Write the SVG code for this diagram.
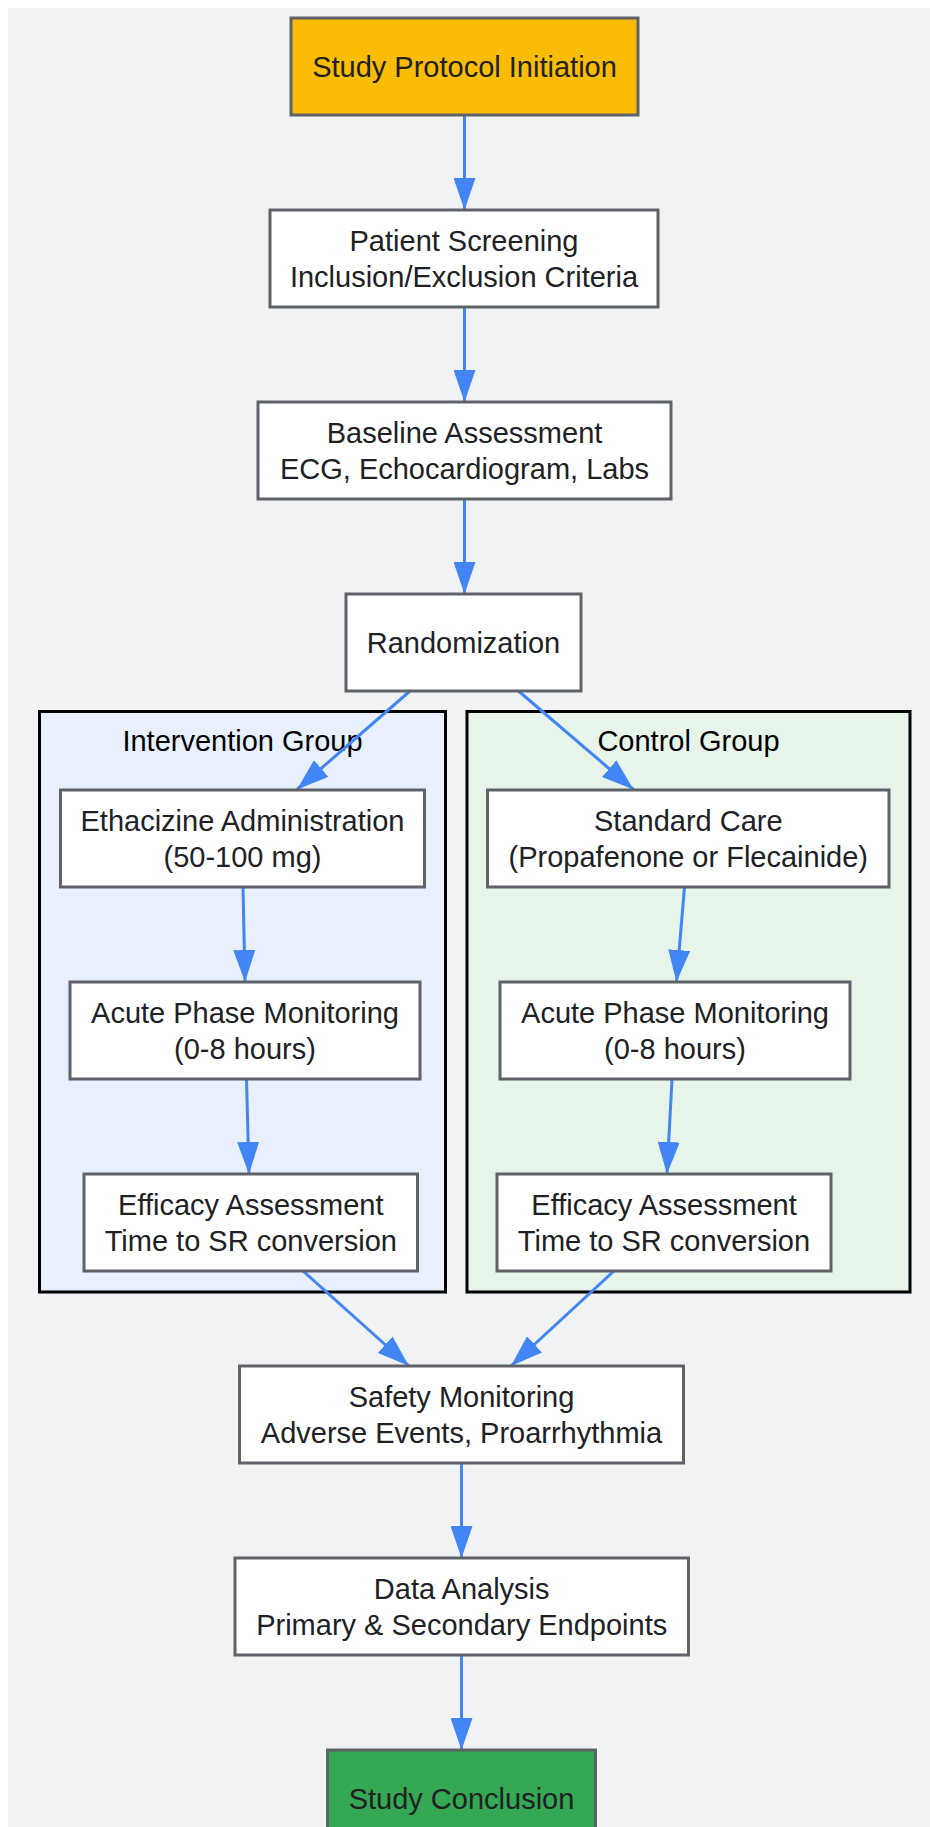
<svg xmlns="http://www.w3.org/2000/svg" width="930" height="1827" viewBox="0 0 930 1827">
<style>
.bg{fill:#f1f2f4}
.node rect{fill:#ffffff;stroke:#5f6368;stroke-width:3}
.node text,.cl text{font-family:"Liberation Sans",Arial,sans-serif;font-size:29px;text-anchor:middle;fill:#202124}
.cl rect{stroke:#000000;stroke-width:3}
.cl text{fill:#000000}
.edge{fill:none;stroke:#4285f4;stroke-width:3}
</style>
<defs>
<marker id="arr" markerUnits="userSpaceOnUse" markerWidth="32" markerHeight="22" refX="32" refY="11" orient="auto">
<path d="M0,0 L32,11 L0,22 Z" fill="#4285f4"/>
</marker>
</defs>
<rect class="bg" x="8" y="8" width="922" height="1819"/>
<g id="cluster-intervention" class="cl">
<rect x="39.5" y="711.5" width="406" height="580.5" fill="#e8f0fe"/>
<text x="242.5" y="750.5">Intervention Group</text>
</g>
<g id="cluster-control" class="cl">
<rect x="467" y="711.5" width="443" height="580.5" fill="#e6f4ea"/>
<text x="688.5" y="750.5">Control Group</text>
</g>
<g id="connectors">
<path class="edge" d="M464.5,115.5 L464.5,210" marker-end="url(#arr)"/>
<path class="edge" d="M464.5,306.5 L464.5,402" marker-end="url(#arr)"/>
<path class="edge" d="M464.5,499 L464.5,594" marker-end="url(#arr)"/>
<path class="edge" d="M410,691 L297,789.5" marker-end="url(#arr)"/>
<path class="edge" d="M518.5,691 L633.5,789.5" marker-end="url(#arr)"/>
<path class="edge" d="M243,887 L245,982" marker-end="url(#arr)"/>
<path class="edge" d="M684.5,887 L676.5,982" marker-end="url(#arr)"/>
<path class="edge" d="M246.5,1079 L249,1174" marker-end="url(#arr)"/>
<path class="edge" d="M672,1079 L667,1174" marker-end="url(#arr)"/>
<path class="edge" d="M303,1271 L409,1366" marker-end="url(#arr)"/>
<path class="edge" d="M614,1271 L511,1366" marker-end="url(#arr)"/>
<path class="edge" d="M461.5,1463 L461.5,1558" marker-end="url(#arr)"/>
<path class="edge" d="M461.5,1655 L461.5,1750" marker-end="url(#arr)"/>
</g>
<g id="n-start" class="node">
<rect x="291" y="18" width="347" height="97" style="fill:#fbbc04"/>
<text x="464.5" y="77">Study Protocol Initiation</text>
</g>
<g id="n-screening" class="node">
<rect x="270" y="210" width="388" height="97"/>
<text x="464" y="250.5">Patient Screening</text>
<text x="464" y="286.5">Inclusion/Exclusion Criteria</text>
</g>
<g id="n-baseline" class="node">
<rect x="258" y="402" width="413" height="97"/>
<text x="464.5" y="442.5">Baseline Assessment</text>
<text x="464.5" y="478.5">ECG, Echocardiogram, Labs</text>
</g>
<g id="n-random" class="node">
<rect x="346" y="594" width="235" height="97"/>
<text x="463.5" y="653">Randomization</text>
</g>
<g id="n-ethacizine" class="node">
<rect x="60.5" y="790" width="364" height="97"/>
<text x="242.5" y="830.5">Ethacizine Administration</text>
<text x="242.5" y="866.5">(50-100 mg)</text>
</g>
<g id="n-standard" class="node">
<rect x="487.5" y="790" width="401.5" height="97"/>
<text x="688.3" y="830.5">Standard Care</text>
<text x="688.3" y="866.5">(Propafenone or Flecainide)</text>
</g>
<g id="n-acute-i" class="node">
<rect x="70" y="982" width="350" height="97"/>
<text x="245" y="1022.5">Acute Phase Monitoring</text>
<text x="245" y="1058.5">(0-8 hours)</text>
</g>
<g id="n-acute-c" class="node">
<rect x="500" y="982" width="350" height="97"/>
<text x="675" y="1022.5">Acute Phase Monitoring</text>
<text x="675" y="1058.5">(0-8 hours)</text>
</g>
<g id="n-efficacy-i" class="node">
<rect x="84" y="1174" width="333.5" height="97"/>
<text x="250.8" y="1214.5">Efficacy Assessment</text>
<text x="250.8" y="1250.5">Time to SR conversion</text>
</g>
<g id="n-efficacy-c" class="node">
<rect x="497" y="1174" width="334" height="97"/>
<text x="664" y="1214.5">Efficacy Assessment</text>
<text x="664" y="1250.5">Time to SR conversion</text>
</g>
<g id="n-safety" class="node">
<rect x="239.5" y="1366" width="444" height="97"/>
<text x="461.5" y="1406.5">Safety Monitoring</text>
<text x="461.5" y="1442.5">Adverse Events, Proarrhythmia</text>
</g>
<g id="n-data" class="node">
<rect x="235" y="1558" width="453.5" height="97"/>
<text x="461.7" y="1598.5">Data Analysis</text>
<text x="461.7" y="1634.5">Primary &amp; Secondary Endpoints</text>
</g>
<g id="n-end" class="node">
<rect x="327.5" y="1750" width="268" height="97" style="fill:#34a853"/>
<text x="461.5" y="1809">Study Conclusion</text>
</g>
</svg>
